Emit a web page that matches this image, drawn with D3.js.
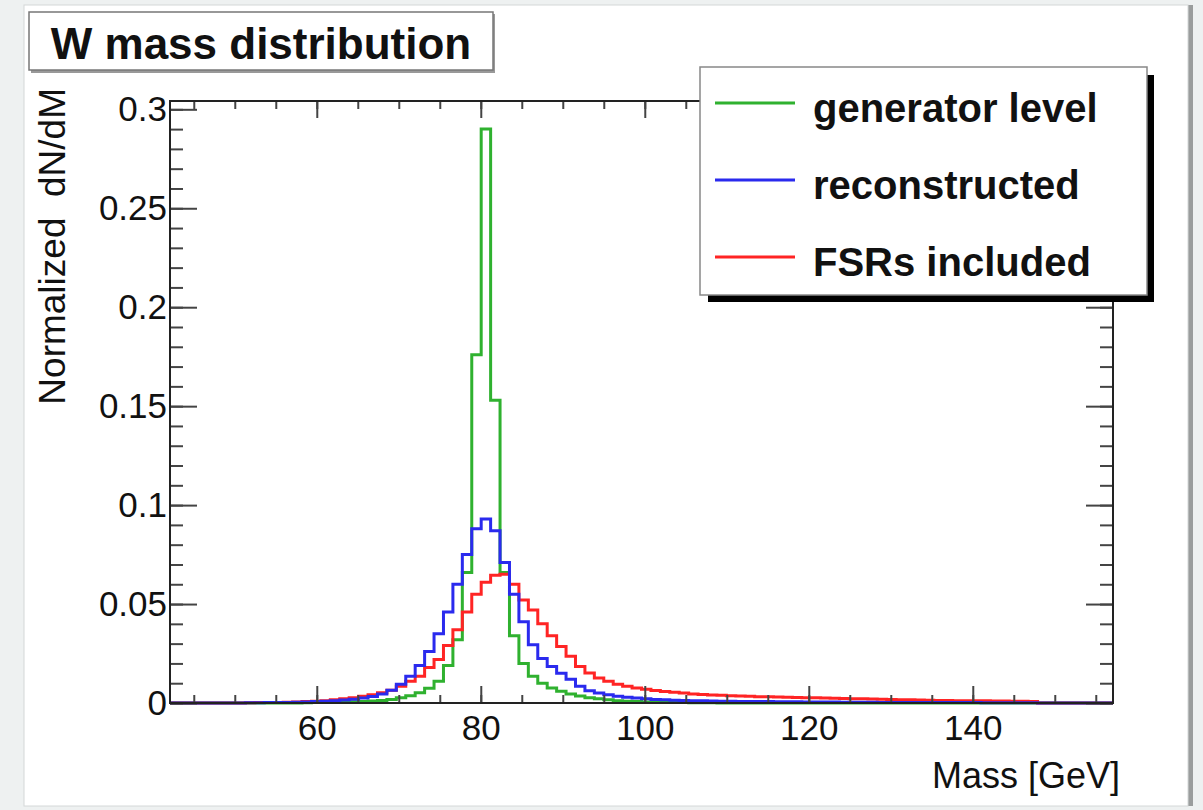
<!DOCTYPE html>
<html>
<head>
<meta charset="utf-8">
<script src="https://cdn.jsdelivr.net/npm/d3@7"></script>
<style>
  body { margin: 0; background: #eef1f1; }
  svg { display: block; }
  text { font-family: "Liberation Sans", Arial, Helvetica, sans-serif; fill: #111; }
</style>
</head>
<body>
<div id="main"></div>
<script>
const ctx = {
    WIDTH: 1203,
    HEIGHT: 810
}

// histogram binning: 100 bins over the mass range (GeV)
const massRange = [42.1, 157.1];
const nBins = 100;

const seriesNames = ["generator level", "reconstructed", "FSRs included"];

// bin contents, normalized dN/dM (bins 0..99)
const generatorLevel = [
  0, 0, 0, 0, 0, 0, 0, 0, 0, 0,
  0, 0, 0, 0, 0.0001, 0.0002, 0.0003, 0.0004, 0.0005, 0.0006,
  0.0008, 0.0010, 0.0013, 0.0018, 0.0026, 0.0037, 0.0052, 0.0075, 0.011, 0.019,
  0.032, 0.066, 0.176, 0.290, 0.153, 0.066, 0.034, 0.020, 0.0135, 0.010,
  0.0076, 0.0059, 0.0045, 0.0035, 0.0027, 0.0021, 0.0016, 0.0012, 0.0009, 0.0007,
  0.0005, 0.0004, 0.0003, 0.0002, 0.0002, 0.0001, 0.0001, 0.0001, 0, 0,
  0, 0, 0, 0, 0, 0, 0, 0, 0, 0,
  0, 0, 0, 0, 0, 0, 0, 0, 0, 0,
  0, 0, 0, 0, 0, 0, 0, 0, 0, 0,
  0, 0, 0, 0, 0, 0, 0, 0, 0, 0
];

const reconstructed = [
  0, 0, 0, 0, 0, 0, 0, 0, 0.0001, 0.0001,
  0.0002, 0.0002, 0.0003, 0.0004, 0.0005, 0.0007, 0.0009, 0.0012, 0.0015, 0.0019,
  0.0025, 0.0033, 0.0045, 0.0065, 0.0095, 0.0135, 0.019, 0.026, 0.035, 0.046,
  0.060, 0.075, 0.088, 0.093, 0.087, 0.071, 0.055, 0.041, 0.0294, 0.0225,
  0.0185, 0.015, 0.012, 0.0085, 0.0062, 0.0050, 0.0042, 0.0034, 0.0029, 0.0025,
  0.0021, 0.0018, 0.0016, 0.0014, 0.0013, 0.0012, 0.0011, 0.0010, 0.0009, 0.0009,
  0.0008, 0.0007, 0.0007, 0.0007, 0.0006, 0.0006, 0.0006, 0.0005, 0.0005, 0.0005,
  0.0005, 0.0004, 0.0004, 0.0004, 0.0004, 0.0003, 0.0003, 0.0003, 0.0003, 0.0003,
  0.0002, 0.0002, 0.0002, 0.0002, 0.0002, 0.0002, 0.0001, 0.0001, 0.0001, 0.0001,
  0.0001, 0.0001, 0, 0, 0, 0, 0, 0, 0, 0
];

const fsrIncluded = [
  0, 0, 0, 0, 0, 0, 0, 0, 0.0001, 0.0002,
  0.0002, 0.0003, 0.0004, 0.0005, 0.0007, 0.0009, 0.0012, 0.0016, 0.0021, 0.0027,
  0.0034, 0.0042, 0.0052, 0.0065, 0.0085, 0.011, 0.0135, 0.018, 0.022, 0.029,
  0.037, 0.046, 0.055, 0.061, 0.0645, 0.065, 0.060, 0.052, 0.047, 0.040,
  0.034, 0.0286, 0.0236, 0.0185, 0.0152, 0.0126, 0.011, 0.0095, 0.0085, 0.0076,
  0.0069, 0.0063, 0.0058, 0.0054, 0.0050, 0.0046, 0.0043, 0.0041, 0.0039, 0.0037,
  0.0035, 0.0034, 0.0032, 0.0031, 0.0030, 0.0029, 0.0028, 0.0027, 0.0026, 0.0025,
  0.0024, 0.0023, 0.0022, 0.0021, 0.0020, 0.0019, 0.0018, 0.0017, 0.0016, 0.0015,
  0.0014, 0.0013, 0.0013, 0.0012, 0.0012, 0.0011, 0.0011, 0.0010, 0.0010, 0.0009,
  0.0009, 0.0008, 0, 0, 0, 0, 0, 0, 0, 0
];

const xTickLabels = [60, 80, 100, 120, 140];
const yTickLabels = [0, 0.05, 0.1, 0.15, 0.2, 0.25, 0.3];
const yMax = 0.3042;

function populateSVGcanvas() {
  const svg = d3.select("#main svg");
  const frame = {left: 170, right: 1113, top: 101, bottom: 703};

  // page panel
  svg.append("rect").attr("x", 0).attr("y", 0)
     .attr("width", ctx.WIDTH).attr("height", ctx.HEIGHT).attr("fill", "#eef1f1");
  svg.append("rect").attr("x", 1186).attr("y", 5).attr("width", 7).attr("height", 801)
     .attr("fill", "#9a9d9d");
  svg.append("rect").attr("x", 24).attr("y", 5).attr("width", 1164).attr("height", 801)
     .attr("fill", "#fff").attr("stroke", "#d4d8d8").attr("stroke-width", 1);

  const x = d3.scaleLinear().domain(massRange).range([frame.left, frame.right]);
  const y = d3.scaleLinear().domain([0, yMax]).range([frame.bottom, frame.top]);
  const binW = (massRange[1] - massRange[0]) / nBins;

  // histograms as step lines
  const step = d3.line()
      .x(d => x(d[0]))
      .y(d => y(d[1]))
      .curve(d3.curveStepAfter);
  const toPoints = vals => {
    const pts = vals.map((v, i) => [massRange[0] + i * binW, v]);
    pts.push([massRange[1], vals[vals.length - 1]]);
    return pts;
  };

  svg.append("clipPath").attr("id", "frameClip").append("rect")
     .attr("x", frame.left).attr("y", frame.top - 2)
     .attr("width", frame.right - frame.left).attr("height", frame.bottom - frame.top + 4);

  const hists = [
    {vals: generatorLevel, color: "#2fb12f"},
    {vals: fsrIncluded, color: "#ff2424"},
    {vals: reconstructed, color: "#2a2aee"}
  ];
  svg.append("g").attr("clip-path", "url(#frameClip)")
     .selectAll("path").data(hists).enter().append("path")
     .attr("d", d => step(toPoints(d.vals)))
     .attr("fill", "none")
     .attr("stroke", d => d.color)
     .attr("stroke-width", 3)
     .attr("stroke-linejoin", "miter");

  // axes: major + minor ticks on all four sides
  const tickStyle = g => {
    g.select(".domain").remove();
    g.selectAll(".tick line").attr("stroke", "#444").attr("stroke-width", 2);
  };
  const xMinor = d3.range(45, 157, 5);
  const yMinor = d3.range(0, 0.305, 0.01);

  svg.append("g").attr("transform", `translate(0,${frame.bottom})`)
     .call(d3.axisBottom(x).tickValues(xMinor).tickSize(-8).tickFormat(""))
     .call(tickStyle);
  const xAxis = svg.append("g").attr("transform", `translate(0,${frame.bottom})`)
     .call(d3.axisBottom(x).tickValues(xTickLabels).tickSize(-17).tickPadding(12))
     .call(tickStyle);
  xAxis.selectAll("text").attr("font-size", 35).attr("fill", "#111")
     .style("font-family", "'Liberation Sans', Arial, sans-serif");

  svg.append("g").attr("transform", `translate(0,${frame.top})`)
     .call(d3.axisTop(x).tickValues(xMinor).tickSize(-8).tickFormat(""))
     .call(tickStyle);
  svg.append("g").attr("transform", `translate(0,${frame.top})`)
     .call(d3.axisTop(x).tickValues(xTickLabels).tickSize(-17).tickFormat(""))
     .call(tickStyle);

  svg.append("g").attr("transform", `translate(${frame.left},0)`)
     .call(d3.axisLeft(y).tickValues(yMinor).tickSize(-13).tickFormat(""))
     .call(tickStyle);
  const yAxis = svg.append("g").attr("transform", `translate(${frame.left},0)`)
     .call(d3.axisLeft(y).tickValues(yTickLabels).tickSize(-27).tickPadding(3)
           .tickFormat(d => String(d)))
     .call(tickStyle);
  yAxis.selectAll("text").attr("font-size", 35).attr("fill", "#111")
     .style("font-family", "'Liberation Sans', Arial, sans-serif");

  svg.append("g").attr("transform", `translate(${frame.right},0)`)
     .call(d3.axisRight(y).tickValues(yMinor).tickSize(-13).tickFormat(""))
     .call(tickStyle);
  svg.append("g").attr("transform", `translate(${frame.right},0)`)
     .call(d3.axisRight(y).tickValues(yTickLabels).tickSize(-27).tickFormat(""))
     .call(tickStyle);

  // frame
  svg.append("rect")
     .attr("x", frame.left).attr("y", frame.top)
     .attr("width", frame.right - frame.left).attr("height", frame.bottom - frame.top)
     .attr("fill", "none").attr("stroke", "#222").attr("stroke-width", 2);

  // axis titles
  svg.append("text")
     .attr("x", 1120).attr("y", 788)
     .attr("text-anchor", "end").attr("font-size", 36)
     .text("Mass [GeV]");
  svg.append("text")
     .attr("transform", "translate(65,88) rotate(-90)")
     .attr("text-anchor", "end").attr("font-size", 37)
     .style("white-space", "pre")
     .text("Normalized  dN/dM");

  // title box
  svg.append("rect").attr("x", 31).attr("y", 14).attr("width", 464).attr("height", 59)
     .attr("fill", "#999");
  svg.append("rect").attr("x", 29).attr("y", 12).attr("width", 464).attr("height", 58)
     .attr("fill", "#fff").attr("stroke", "#777").attr("stroke-width", 1.5);
  svg.append("text")
     .attr("x", 261).attr("y", 59)
     .attr("text-anchor", "middle").attr("font-size", 44).attr("font-weight", "bold")
     .text("W mass distribution");

  // legend
  const legend = svg.append("g");
  legend.append("rect").attr("x", 708).attr("y", 75).attr("width", 446).attr("height", 227)
     .attr("fill", "#000");
  legend.append("rect").attr("x", 700).attr("y", 67).attr("width", 447).attr("height", 228)
     .attr("fill", "#fff").attr("stroke", "#888").attr("stroke-width", 1.5);
  const legendColors = ["#2fb12f", "#2a2aee", "#ff2424"];
  const rowY = d3.scalePoint().domain(seriesNames).range([103, 257]);
  const rows = legend.selectAll("g.row").data(seriesNames).enter().append("g")
     .attr("class", "row")
     .attr("transform", d => `translate(0,${rowY(d)})`);
  rows.append("line")
     .attr("x1", 715).attr("x2", 795).attr("y1", 0).attr("y2", 0)
     .attr("stroke", (d, i) => legendColors[i]).attr("stroke-width", 3);
  rows.append("text")
     .attr("x", 813).attr("y", 19)
     .attr("font-size", 40).attr("font-weight", "bold")
     .text(d => d);
}

function createViz(){
    let svgEl = d3.select("#main").append("svg");
    svgEl.attr("width", ctx.WIDTH);
    svgEl.attr("height", ctx.HEIGHT);
    populateSVGcanvas();
}

createViz();
</script>
</body>
</html>
